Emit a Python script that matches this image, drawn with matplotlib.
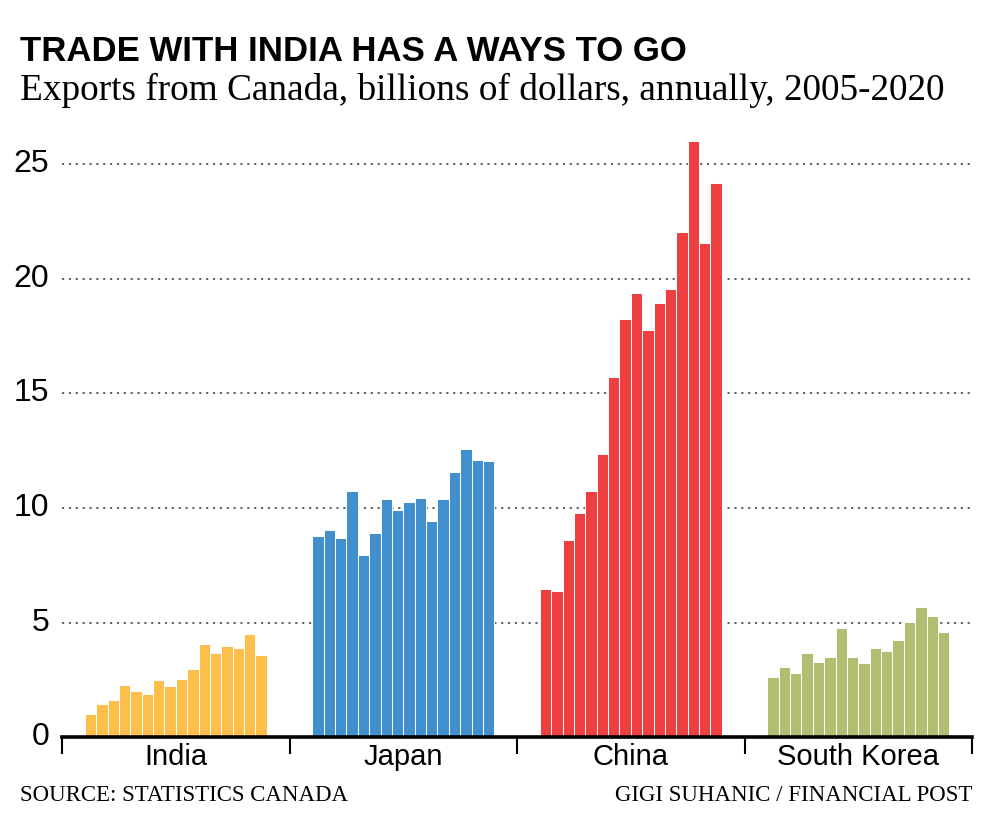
import numpy as np
import matplotlib
matplotlib.use("Agg")
import matplotlib.pyplot as plt

# Canadian exports, billions of dollars, 2005-2020
countries = ["India", "Japan", "China", "South Korea"]
india = [1.02, 1.45, 1.63, 2.28, 2.03, 1.90, 2.50, 2.24, 2.53, 2.98, 4.08, 3.69, 4.00, 3.88, 4.53, 3.60]
japan = [8.79, 9.05, 8.69, 10.76, 7.97, 8.91, 10.39, 9.93, 10.28, 10.44, 9.45, 10.39, 11.55, 12.58, 12.10, 12.07]
china = [6.47, 6.37, 8.60, 9.79, 10.76, 12.34, 15.71, 18.22, 19.39, 17.77, 18.93, 19.55, 22.04, 26.02, 21.57, 24.17]
korea = [2.63, 3.08, 2.79, 3.68, 3.28, 3.50, 4.78, 3.52, 3.23, 3.88, 3.78, 4.23, 5.03, 5.70, 5.31, 4.59]
series = [india, japan, china, korea]
colors = ["#fdbf4b", "#428fcd", "#ef4041", "#b3bd72"]
yticks = [0, 5, 10, 15, 20, 25]

sans = ["Liberation Sans", "DejaVu Sans"]
serif = ["Liberation Serif", "DejaVu Serif"]

fig = plt.figure(figsize=(10, 8.19), dpi=100)
ax = fig.add_axes([0.062, 0.0996, 0.910, 0.7563])

n = len(india)
bw = 0.8 / n
for i, (vals, c) in enumerate(zip(series, colors)):
    xs = i + 0.1 + (np.arange(n) + 0.5) * bw
    ax.bar(xs, vals, width=bw, color=c, edgecolor="white", linewidth=0.7, zorder=2)

ax.set_xlim(0, 4)
ax.set_ylim(0, 27)
ax.set_yticks(yticks[1:])
ax.set_yticklabels([])
for y in yticks:
    ax.text(-0.055, y, str(y), ha="right", va="center", fontsize=23,
            family=sans, clip_on=False)
ax.tick_params(axis="y", length=0)
ax.yaxis.grid(True, color="#555555", linestyle=(0, (1.2, 2.6)), linewidth=1.3, zorder=1)

ax.set_xticks(range(5))
ax.set_xticklabels([])
ax.set_xticks(np.arange(4) + 0.5, minor=True)
ax.set_xticklabels(countries, minor=True, fontsize=21, family=sans)
ax.tick_params(axis="x", which="major", length=12, width=1.5, direction="out", color="black")
ax.tick_params(axis="x", which="minor", length=0, pad=4)

for s in ["left", "right", "top"]:
    ax.spines[s].set_visible(False)
ax.spines["bottom"].set_linewidth(2.6)

fig.text(0.02, 0.925, "TRADE WITH INDIA HAS A WAYS TO GO", fontsize=25, fontweight="bold",
         family=sans, ha="left", va="baseline")
fig.text(0.02, 0.878, "Exports from Canada, billions of dollars, annually, 2005-2020",
         fontsize=26.8, family=serif, ha="left", va="baseline")
fig.text(0.02, 0.022, "SOURCE: STATISTICS CANADA", fontsize=16.5, family=serif,
         ha="left", va="baseline")
fig.text(0.972, 0.022, "GIGI SUHANIC / FINANCIAL POST", fontsize=16.5, family=serif,
         ha="right", va="baseline")

fig.savefig("out.png", dpi=100)
